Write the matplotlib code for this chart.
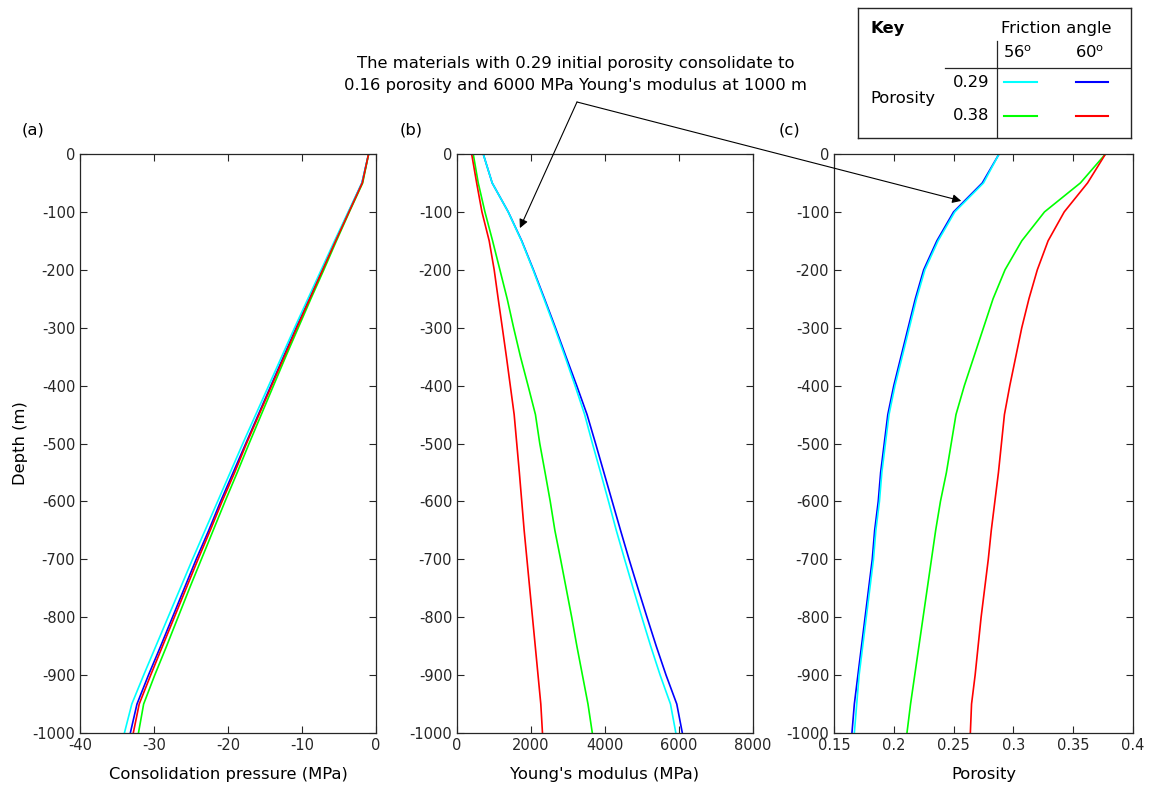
import numpy as np
import matplotlib
matplotlib.use("Agg")
import matplotlib.pyplot as plt

plt.rcParams['font.family'] = ['DejaVu Sans']
plt.rcParams['axes.unicode_minus'] = False

# depth (m), every 50 m
depth = [0, -50, -100, -150, -200, -250, -300, -350, -400, -450, -500,
         -550, -600, -650, -700, -750, -800, -850, -900, -950, -1000]

# (a) consolidation pressure (MPa)
p_cyan = [-1.0, -1.9, -3.75, -5.6, -7.4, -9.2, -11.0, -12.75, -14.5, -16.25, -18.0,
          -19.7, -21.4, -23.1, -24.8, -26.45, -28.1, -29.75, -31.4, -33.0, -34.0]
p_blue = [-1.0, -1.9, -3.7, -5.5, -7.25, -9.0, -10.8, -12.5, -14.2, -15.9, -17.6,
          -19.3, -21.0, -22.6, -24.3, -25.9, -27.5, -29.1, -30.75, -32.3, -33.2]
p_red = [-1.0, -1.85, -3.65, -5.45, -7.2, -8.95, -10.7, -12.4, -14.1, -15.8, -17.5,
         -19.1, -20.8, -22.4, -24.05, -25.65, -27.25, -28.85, -30.45, -32.0, -32.8]
p_green = [-1.0, -1.8, -3.6, -5.35, -7.05, -8.8, -10.5, -12.2, -13.85, -15.5, -17.15,
           -18.75, -20.4, -22.0, -23.6, -25.2, -26.75, -28.3, -29.9, -31.4, -32.1]

# (b) Young's modulus (MPa)
e_cyan = [709, 951, 1383, 1744, 2056, 2350, 2640, 2920, 3190, 3450, 3660,
          3880, 4095, 4305, 4530, 4760, 4995, 5235, 5490, 5770, 5915]
e_blue = [709, 951, 1385, 1750, 2065, 2365, 2660, 2945, 3235, 3515, 3745,
          3970, 4195, 4420, 4650, 4890, 5135, 5385, 5650, 5940, 6090]
e_green = [439, 574, 755, 962, 1159, 1356, 1530, 1715, 1920, 2120, 2237,
           2380, 2520, 2645, 2800, 2950, 3100, 3240, 3390, 3540, 3657]
e_red = [396, 531, 674, 870, 1005, 1113, 1225, 1335, 1440, 1545, 1615,
         1685, 1750, 1815, 1890, 1965, 2040, 2115, 2190, 2265, 2310]

# (c) porosity
n_cyan = [0.288, 0.275, 0.251, 0.237, 0.226, 0.219, 0.213, 0.207, 0.201, 0.196, 0.193,
          0.190, 0.188, 0.185, 0.183, 0.180, 0.177, 0.174, 0.171, 0.169, 0.167]
n_blue = [0.288, 0.274, 0.250, 0.236, 0.225, 0.218, 0.212, 0.206, 0.200, 0.195, 0.192,
          0.189, 0.187, 0.184, 0.182, 0.179, 0.176, 0.173, 0.170, 0.167, 0.165]
n_green = [0.377, 0.356, 0.326, 0.307, 0.293, 0.283, 0.275, 0.267, 0.259, 0.252, 0.248,
           0.244, 0.239, 0.235, 0.2315, 0.228, 0.2245, 0.221, 0.2175, 0.214, 0.211]
n_red = [0.377, 0.362, 0.3425, 0.329, 0.320, 0.313, 0.307, 0.302, 0.297, 0.2925, 0.290,
         0.2875, 0.2845, 0.2815, 0.279, 0.276, 0.273, 0.2705, 0.268, 0.265, 0.264]

C_CYAN, C_BLUE, C_GREEN, C_RED = '#00ffff', '#0000ff', '#00ff00', '#ff0000'
FS_TICK = 10.5
FS = 11.8
LW = 1.2

W, H = 1153, 791
fig = plt.figure(figsize=(W / 100, H / 100), dpi=100)


def px_axes(x0, x1, y0, y1):
    # y0 = top pixel, y1 = bottom pixel
    return fig.add_axes([x0 / W, 1 - y1 / H, (x1 - x0) / W, (y1 - y0) / H])


def style(ax):
    ax.tick_params(direction='in', top=True, right=True, length=5,
                   labelsize=FS_TICK, colors='#262626')
    for s in ax.spines.values():
        s.set_color('#262626')
        s.set_linewidth(0.9)
    ax.set_ylim(-1000, 0)
    ax.set_yticks(np.arange(-1000, 1, 100))


ax_a = px_axes(80, 376, 154, 733)
ax_b = px_axes(457, 753, 154, 733)
ax_c = px_axes(834, 1133, 154, 733)

# (a)
ax_a.plot(p_blue, depth, color=C_BLUE, lw=LW)
ax_a.plot(p_cyan, depth, color=C_CYAN, lw=LW)
ax_a.plot(p_green, depth, color=C_GREEN, lw=LW)
ax_a.plot(p_red, depth, color=C_RED, lw=LW)
style(ax_a)
ax_a.set_xlim(-40, 0)
ax_a.set_xticks([-40, -30, -20, -10, 0])
ax_a.set_xlabel('Consolidation pressure (MPa)', fontsize=FS, labelpad=10)
ax_a.set_ylabel('Depth (m)', fontsize=FS, labelpad=3)

# (b)
ax_b.plot(e_blue, depth, color=C_BLUE, lw=LW)
ax_b.plot(e_cyan, depth, color=C_CYAN, lw=LW)
ax_b.plot(e_green, depth, color=C_GREEN, lw=LW)
ax_b.plot(e_red, depth, color=C_RED, lw=LW)
style(ax_b)
ax_b.set_xlim(0, 8000)
ax_b.set_xticks([0, 2000, 4000, 6000, 8000])
ax_b.set_xlabel("Young's modulus (MPa)", fontsize=FS, labelpad=10)

# (c)
ax_c.plot(n_blue, depth, color=C_BLUE, lw=LW)
ax_c.plot(n_cyan, depth, color=C_CYAN, lw=LW)
ax_c.plot(n_green, depth, color=C_GREEN, lw=LW)
ax_c.plot(n_red, depth, color=C_RED, lw=LW)
style(ax_c)
ax_c.set_xlim(0.15, 0.4)
ax_c.set_xticks([0.15, 0.2, 0.25, 0.3, 0.35, 0.4])
ax_c.set_xticklabels(['0.15', '0.2', '0.25', '0.3', '0.35', '0.4'])
ax_c.set_xlabel('Porosity', fontsize=FS, labelpad=10)

# panel letters
for x, lab in [(22, '(a)'), (400, '(b)'), (779, '(c)')]:
    fig.text(x / W, 1 - 130 / H, lab, fontsize=FS, va='center', ha='left')

# annotation
fig.text(576 / W, 1 - 74.5 / H,
         "The materials with 0.29 initial porosity consolidate to\n"
         "0.16 porosity and 6000 MPa Young's modulus at 1000 m",
         fontsize=FS, ha='center', va='center', linespacing=1.65)
arrow = dict(arrowstyle='-|>', color='k', lw=0.8, mutation_scale=13,
             shrinkA=0, shrinkB=0)
tail = (577 / W, 1 - 102 / H)
ax_b.annotate('', xy=(1700, -128), xycoords='data', xytext=tail,
              textcoords='figure fraction', arrowprops=arrow, annotation_clip=False)
ax_c.annotate('', xy=(0.2564, -81), xycoords='data', xytext=tail,
              textcoords='figure fraction', arrowprops=arrow, annotation_clip=False)

# key box, in pixel coordinates
kx0, kx1, ky0, ky1 = 857.7, 1131, 7.7, 137.7
ax_k = px_axes(kx0, kx1, ky0, ky1)
ax_k.set_xlim(kx0, kx1)
ax_k.set_ylim(ky1, ky0)
ax_k.set_xticks([])
ax_k.set_yticks([])
for s in ax_k.spines.values():
    s.set_color('#262626')
    s.set_linewidth(1.0)
ax_k.plot([996.7, 996.7], [41, ky1], color='#262626', lw=0.9)
ax_k.plot([945, kx1], [67.7, 67.7], color='#262626', lw=0.9)
ax_k.text(870, 28, 'Key', fontsize=FS, fontweight='bold', va='center', ha='left')
ax_k.text(1056, 28.5, 'Friction angle', fontsize=FS, va='center', ha='center')
ax_k.text(1018, 53, '56$^\\mathrm{o}$', fontsize=FS, va='center', ha='center')
ax_k.text(1090, 53, '60$^\\mathrm{o}$', fontsize=FS, va='center', ha='center')
ax_k.text(989, 82.5, '0.29', fontsize=FS, va='center', ha='right')
ax_k.text(989, 116, '0.38', fontsize=FS, va='center', ha='right')
ax_k.text(870, 99, 'Porosity', fontsize=FS, va='center', ha='left')
ax_k.plot([1004, 1037], [81.7, 81.7], color=C_CYAN, lw=LW + 0.3)
ax_k.plot([1076, 1108], [81.7, 81.7], color=C_BLUE, lw=LW + 0.3)
ax_k.plot([1004, 1037], [115.7, 115.7], color=C_GREEN, lw=LW + 0.3)
ax_k.plot([1076, 1108], [115.7, 115.7], color=C_RED, lw=LW + 0.3)

fig.savefig('out.png', dpi=100)
